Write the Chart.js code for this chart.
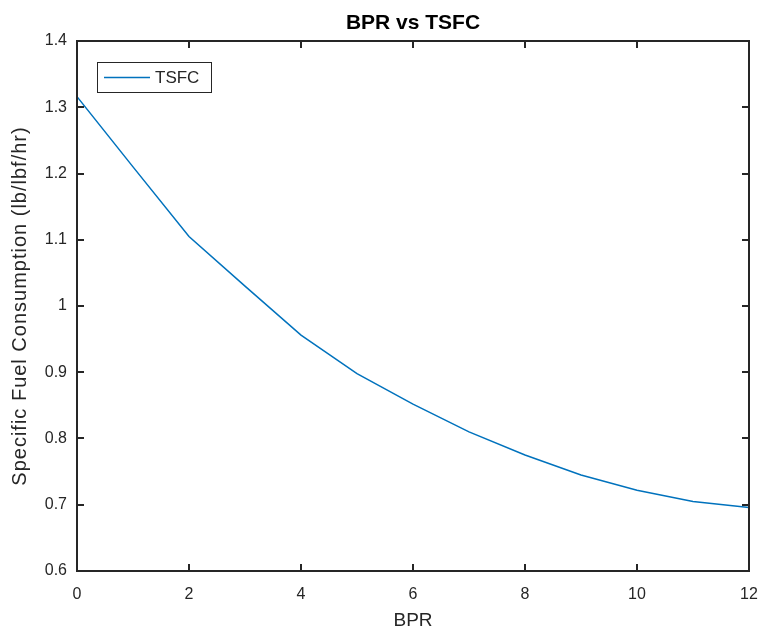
<!DOCTYPE html>
<html>
<head>
<meta charset="utf-8">
<script src="https://cdn.jsdelivr.net/npm/chart.js@4/dist/chart.umd.min.js"></script>
<style>
  html, body { margin: 0; padding: 0; background: #ffffff; }
  #wrap { width: 760px; height: 632px; position: relative; }
</style>
</head>
<body>
<div id="wrap"><canvas id="c" width="760" height="632"></canvas></div>
<script>
// ---- data ----
const bpr  = [0, 1, 2, 3, 4, 5, 6, 7, 8, 9, 10, 11, 12];
const tsfc = [1.316, 1.21, 1.105, 1.03, 0.956, 0.898, 0.852, 0.810, 0.775, 0.745, 0.722, 0.705, 0.696];
const seriesLabel = 'TSFC';
const chartTitle = 'BPR vs TSFC';
const xTitle = 'BPR';
const yTitle = 'Specific Fuel Consumption (lb/lbf/hr)';
const xTicks = [0, 2, 4, 6, 8, 10, 12];
const yTicks = [0.6, 0.7, 0.8, 0.9, 1.0, 1.1, 1.2, 1.3, 1.4];

const AXIS = '#262626';
const LINE = '#0072BD';
const FONT = '"Liberation Sans", Arial, Helvetica, sans-serif';

const points = bpr.map((x, i) => ({ x: x, y: tsfc[i] }));

const framePlugin = {
  id: 'frame',
  afterDatasetsDraw(chart) {
    const ctx = chart.ctx;
    const a = chart.chartArea;
    const xs = chart.scales.x, ys = chart.scales.y;
    ctx.save();
    ctx.strokeStyle = AXIS;
    ctx.lineWidth = 2;
    ctx.strokeRect(a.left, a.top, a.right - a.left, a.bottom - a.top);
    const L = 7;
    ctx.beginPath();
    xs.ticks.forEach(t => {
      const px = Math.round(xs.getPixelForValue(t.value));
      ctx.moveTo(px, a.bottom); ctx.lineTo(px, a.bottom - L);
      ctx.moveTo(px, a.top); ctx.lineTo(px, a.top + L);
    });
    ys.ticks.forEach(t => {
      const py = Math.round(ys.getPixelForValue(t.value));
      ctx.moveTo(a.left, py); ctx.lineTo(a.left + L, py);
      ctx.moveTo(a.right, py); ctx.lineTo(a.right - L, py);
    });
    ctx.stroke();

    // legend box (MATLAB style, inside the axes)
    const ds = chart.data.datasets[0];
    const bx = a.left + 20, by = a.top + 21, bw = 114, bh = 30;
    ctx.fillStyle = '#ffffff';
    ctx.fillRect(bx, by, bw, bh);
    ctx.lineWidth = 1;
    ctx.strokeStyle = AXIS;
    ctx.strokeRect(bx + 0.5, by + 0.5, bw, bh);
    ctx.strokeStyle = ds.borderColor;
    ctx.lineWidth = 1.5;
    ctx.beginPath();
    ctx.moveTo(bx + 7, by + bh / 2 + 0.5);
    ctx.lineTo(bx + 53, by + bh / 2 + 0.5);
    ctx.stroke();
    ctx.fillStyle = AXIS;
    ctx.font = '17px ' + FONT;
    ctx.textBaseline = 'middle';
    ctx.textAlign = 'left';
    ctx.fillText(ds.label, bx + 58, by + bh / 2 + 1);

    // chart title, centred over the axes
    ctx.font = 'bold 21px ' + FONT;
    ctx.fillStyle = '#000000';
    ctx.textAlign = 'center';
    ctx.textBaseline = 'middle';
    ctx.fillText(chartTitle, (a.left + a.right) / 2, 23);

    // y axis title (rotated)
    ctx.translate(20, (a.top + a.bottom) / 2);
    ctx.rotate(-Math.PI / 2);
    ctx.font = '20px ' + FONT;
    try { ctx.letterSpacing = '1px'; } catch (e) {}
    ctx.textAlign = 'center';
    ctx.textBaseline = 'middle';
    ctx.fillStyle = AXIS;
    ctx.fillText(yTitle, 0, 0);
    ctx.restore();
  }
};

new Chart(document.getElementById('c'), {
  type: 'line',
  data: {
    datasets: [{
      label: seriesLabel,
      data: points,
      borderColor: LINE,
      backgroundColor: LINE,
      borderWidth: 1.5,
      pointRadius: 0,
      tension: 0,
      fill: false
    }]
  },
  options: {
    responsive: false,
    animation: false,
    devicePixelRatio: 1,
    layout: { padding: { left: 0, right: 11, top: 41, bottom: 0 } },
    plugins: {
      legend: { display: false },
      tooltip: { enabled: false },
      title: { display: false }
    },
    scales: {
      x: {
        type: 'linear',
        min: 0, max: 12,
        afterBuildTicks: s => { s.ticks = xTicks.map(v => ({ value: v })); },
        afterFit: s => { s.height = 61; s.paddingLeft = 0; s.paddingRight = 0; },
        grid: { display: false, drawTicks: false },
        border: { display: false },
        ticks: { color: AXIS, font: { family: FONT, size: 16 }, padding: 14, maxRotation: 0 },
        title: { display: true, text: xTitle, color: AXIS, font: { family: FONT, size: 19 }, padding: { top: 0, bottom: 0 } }
      },
      y: {
        type: 'linear',
        min: 0.6, max: 1.4,
        afterBuildTicks: s => { s.ticks = yTicks.map(v => ({ value: v })); },
        afterFit: s => { s.width = 77; s.paddingTop = 0; s.paddingBottom = 0; },
        grid: { display: false, drawTicks: false },
        border: { display: false },
        ticks: {
          color: AXIS, font: { family: FONT, size: 16 }, padding: 10,
          callback: v => String(Math.round(v * 10) / 10)
        },
        title: { display: false }
      }
    }
  },
  plugins: [framePlugin]
});
</script>
</body>
</html>
